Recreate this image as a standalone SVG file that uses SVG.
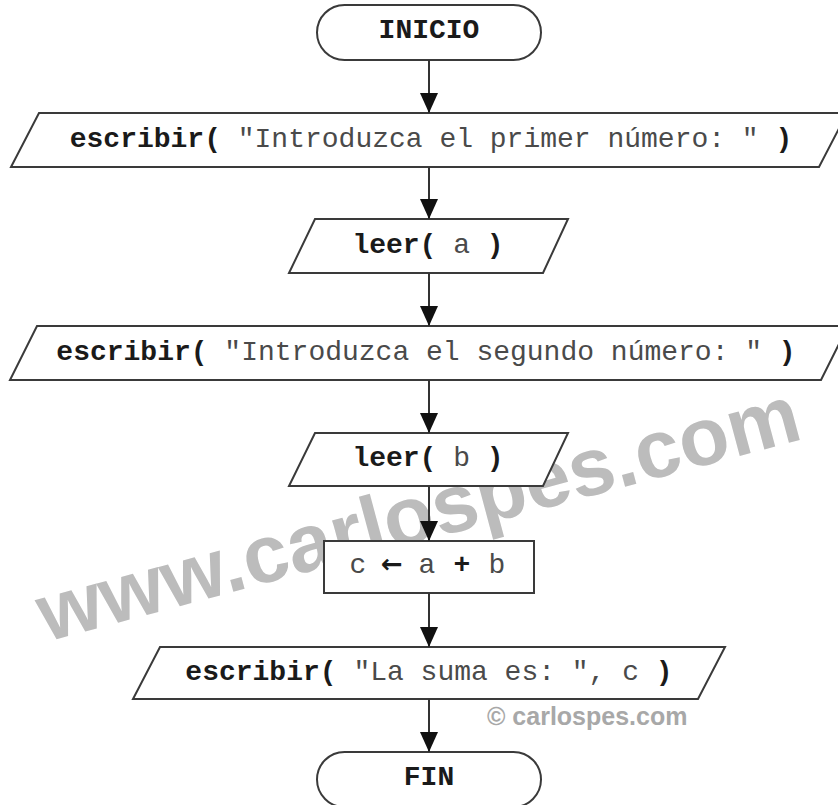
<svg xmlns="http://www.w3.org/2000/svg" width="838" height="805" viewBox="0 0 838 805">
<style>
.shape{fill:#fff;stroke:#3a3a3a;stroke-width:2}
.t{font-family:"Liberation Mono","Courier New",monospace;font-size:28px;fill:#4a4a4a}
.b{font-weight:bold;fill:#1a1a1a}
.arr{font-family:"DejaVu Sans",sans-serif;font-weight:bold;fill:#1a1a1a;font-size:26px}
.conn{stroke:#333;stroke-width:2;fill:none}
.wm{font-family:"Liberation Sans",Arial,sans-serif;font-weight:bold;fill:#bcbcbc}
</style>
<defs>
<marker id="ah" viewBox="0 0 20 18" refX="20" refY="9" markerWidth="20" markerHeight="18" markerUnits="userSpaceOnUse" orient="auto">
<path d="M0,0 L20,9 L0,18 z" fill="#111"/>
</marker>
</defs>
<rect width="838" height="805" fill="#fff"/>
<text class="wm" x="46" y="642" font-size="82" transform="rotate(-15 46 642)">www.carlospes.com</text>
<g id="inicio">
<rect class="shape" x="317" y="5" width="224" height="55" rx="27.5"/>
<text class="t b" x="429" y="38" text-anchor="middle">INICIO</text>
</g>
<g id="escribir1">
<polygon class="shape" points="39,113 847,113 819,167 11,167"/>
<text class="t" x="431" y="147" text-anchor="middle"><tspan class="b">escribir(</tspan> "Introduzca el primer número: " <tspan class="b">)</tspan></text>
</g>
<g id="leer_a">
<polygon class="shape" points="315,219 568,219 543,273 289,273"/>
<text class="t" x="428" y="253" text-anchor="middle"><tspan class="b">leer(</tspan> a <tspan class="b">)</tspan></text>
</g>
<g id="escribir2">
<polygon class="shape" points="37,326 848,326 821,380 10,380"/>
<text class="t" x="426" y="360" text-anchor="middle"><tspan class="b">escribir(</tspan> "Introduzca el segundo número: " <tspan class="b">)</tspan></text>
</g>
<g id="leer_b">
<polygon class="shape" points="315,433 568,433 543,486 289,486"/>
<text class="t" x="428" y="466" text-anchor="middle"><tspan class="b">leer(</tspan> b <tspan class="b">)</tspan></text>
</g>
<g id="asignar">
<rect class="shape" x="324" y="541" width="210" height="52"/>
<text class="t" y="573" text-anchor="middle"><tspan x="358">c</tspan><tspan class="arr" x="392">←</tspan><tspan x="427">a</tspan><tspan class="b" x="462">+</tspan><tspan x="497">b</tspan></text>
</g>
<g id="escribir3">
<polygon class="shape" points="160,647 725,647 698,699 133,699"/>
<text class="t" x="429" y="680" text-anchor="middle"><tspan class="b">escribir(</tspan> "La suma es: ", c <tspan class="b">)</tspan></text>
</g>
<g id="fin">
<rect class="shape" x="317" y="752" width="224" height="55" rx="27.5"/>
<text class="t b" x="429" y="785" text-anchor="middle">FIN</text>
</g>
<text class="wm" x="487" y="725" font-size="25" style="fill:#a8a8a8">© carlospes.com</text>
<g id="connectors">
<line class="conn" x1="429" y1="60" x2="429" y2="113" marker-end="url(#ah)"/>
<line class="conn" x1="429" y1="167" x2="429" y2="219" marker-end="url(#ah)"/>
<line class="conn" x1="429" y1="273" x2="429" y2="326" marker-end="url(#ah)"/>
<line class="conn" x1="429" y1="380" x2="429" y2="433" marker-end="url(#ah)"/>
<line class="conn" x1="429" y1="486" x2="429" y2="541" marker-end="url(#ah)"/>
<line class="conn" x1="429" y1="593" x2="429" y2="647" marker-end="url(#ah)"/>
<line class="conn" x1="429" y1="699" x2="429" y2="752" marker-end="url(#ah)"/>
</g>
</svg>
